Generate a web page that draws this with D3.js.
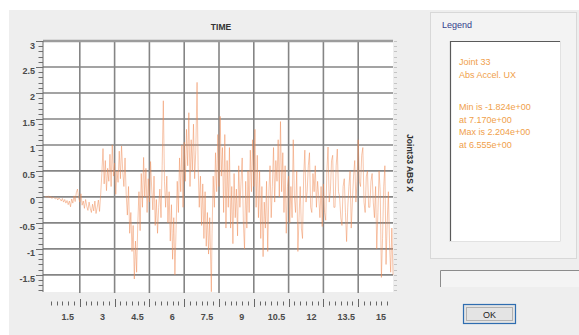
<!DOCTYPE html>
<html>
<head>
<meta charset="utf-8">
<script src="https://cdn.jsdelivr.net/npm/d3@7"></script>
<style>
  html, body { margin: 0; padding: 0; background: #ffffff; overflow: hidden; }
  svg { display: block; }
</style>
</head>
<body>
<svg id="chart" width="579" height="335"></svg>
<script>
// Time stamps (s) of the acceleration history for joint 33
const timeSec = [
  0.00, 0.05, 0.10, 0.15, 0.20, 0.25, 0.30, 0.35, 0.40, 0.45,
  0.50, 0.55, 0.60, 0.65, 0.70, 0.75, 0.80, 0.85, 0.90, 0.95,
  1.00, 1.05, 1.10, 1.15, 1.20, 1.25, 1.30, 1.35, 1.40, 1.45,
  1.50, 1.55, 1.60, 1.65, 1.70, 1.75, 1.80, 1.85, 1.90, 1.95,
  2.00, 2.05, 2.10, 2.15, 2.20, 2.25, 2.30, 2.35, 2.40, 2.45,
  2.50, 2.55, 2.60, 2.65, 2.70, 2.75, 2.80, 2.85, 2.90, 2.95,
  3.00, 3.05, 3.10, 3.15, 3.20, 3.25, 3.30, 3.35, 3.40, 3.45,
  3.50, 3.55, 3.60, 3.65, 3.70, 3.75, 3.80, 3.85, 3.90, 3.95,
  4.00, 4.05, 4.10, 4.15, 4.20, 4.25, 4.30, 4.35, 4.40, 4.45,
  4.50, 4.55, 4.60, 4.65, 4.70, 4.75, 4.80, 4.85, 4.90, 4.95,
  5.00, 5.05, 5.10, 5.15, 5.20, 5.25, 5.30, 5.35, 5.40, 5.45,
  5.50, 5.55, 5.60, 5.65, 5.70, 5.75, 5.80, 5.85, 5.90, 5.95,
  6.00, 6.05, 6.10, 6.15, 6.20, 6.25, 6.30, 6.35, 6.40, 6.45,
  6.50, 6.555, 6.60, 6.65, 6.70, 6.75, 6.80, 6.85, 6.90, 6.95,
  7.00, 7.05, 7.10, 7.17, 7.20, 7.25, 7.30, 7.35, 7.40, 7.45,
  7.50, 7.55, 7.60, 7.65, 7.70, 7.75, 7.80, 7.85, 7.90, 7.95,
  8.00, 8.05, 8.10, 8.15, 8.20, 8.25, 8.30, 8.35, 8.40, 8.45,
  8.50, 8.55, 8.60, 8.65, 8.70, 8.75, 8.80, 8.85, 8.90, 8.95,
  9.00, 9.05, 9.10, 9.15, 9.20, 9.25, 9.30, 9.35, 9.40, 9.45,
  9.50, 9.55, 9.60, 9.65, 9.70, 9.75, 9.80, 9.85, 9.90, 9.95,
  10.00, 10.05, 10.10, 10.15, 10.20, 10.25, 10.30, 10.35, 10.40, 10.45,
  10.50, 10.55, 10.60, 10.65, 10.70, 10.75, 10.80, 10.85, 10.90, 10.95,
  11.00, 11.05, 11.10, 11.15, 11.20, 11.25, 11.30, 11.35, 11.40, 11.45,
  11.50, 11.55, 11.60, 11.65, 11.70, 11.75, 11.80, 11.85, 11.90, 11.95,
  12.00, 12.05, 12.10, 12.15, 12.20, 12.25, 12.30, 12.35, 12.40, 12.45,
  12.50, 12.55, 12.60, 12.65, 12.70, 12.75, 12.80, 12.85, 12.90, 12.95,
  13.00, 13.05, 13.10, 13.15, 13.20, 13.25, 13.30, 13.35, 13.40, 13.45,
  13.50, 13.55, 13.60, 13.65, 13.70, 13.75, 13.80, 13.85, 13.90, 13.95,
  14.00, 14.05, 14.10, 14.15, 14.20, 14.25, 14.30, 14.35, 14.40, 14.45,
  14.50, 14.55, 14.60, 14.65, 14.70, 14.75, 14.80, 14.85, 14.90, 14.95,
  15.00
];

// Absolute acceleration UX at each time stamp
const accelUX = [
  0.00, 0.01, -0.01, 0.02, -0.02, 0.01, -0.03, 0.00, -0.02, -0.04,
  -0.01, -0.06, -0.02, -0.04, -0.08, -0.03, -0.10, -0.05, -0.12, -0.07,
  -0.15, -0.08, -0.19, -0.04, -0.12, 0.02, -0.09, 0.08, 0.15, -0.02,
  -0.10, 0.06, -0.16, -0.08, -0.22, -0.05, -0.18, -0.26, -0.10, -0.22,
  -0.30, -0.14, -0.27, -0.08, -0.32, -0.20, -0.06, -0.28, 0.05, 0.45,
  0.93, 0.25, 0.70, 0.12, 0.55, 0.30, 0.82, 0.20, 1.00, 0.40,
  0.65, 0.05, 0.50, 0.28, 0.88, 0.35, 0.98, 0.50, 0.20, 0.75,
  0.05, -0.35, 0.20, -0.70, -0.30, -1.05, -0.55, -1.58, -0.85, -1.45,
  -0.50, 0.10, -0.65, 0.45, -0.20, 0.76, 0.00, 0.55, -0.30, 0.35,
  -0.10, 0.68, 0.15, -0.25, 0.40, -0.55, -0.05, -0.70, -0.20, 0.15,
  -0.40, 0.60, 1.85, 0.30, -0.20, 0.40, -0.50, 0.10, -0.85, -0.15,
  -1.20, -0.40, -1.50, -0.60, 0.30, -0.30, 0.75, 0.10, 1.00, -0.20,
  1.05, 0.30, 1.30, 0.60, 1.62, 0.20, 1.10, 0.50, 1.40, 0.35,
  0.90, 2.204, 0.60, -0.20, 0.40, -0.55, 0.25, -0.80, 0.10, -0.95,
  -0.30, -1.10, -0.40, -1.824, -0.70, 0.40, -0.20, 0.85, 0.10, 1.20,
  0.20, 1.55, 0.40, 0.95, -0.30, 1.20, -0.60, 0.70, -0.20, 0.95,
  -0.60, 0.20, -0.90, 0.45, -0.40, 0.15, -0.75, 0.60, -0.20, 0.30,
  0.75, -0.50, -1.00, 0.30, -0.60, 0.50, -0.30, 0.90, 0.10, 1.10,
  0.20, 1.30, -0.20, 0.80, -0.40, 0.50, -0.80, 0.20, -1.15, -0.10,
  -0.60, 0.30, -1.05, 0.10, 0.60, -0.40, 0.20, 0.95, -0.10, 0.70,
  0.30, 1.10, 0.00, 1.45, 0.10, 0.85, -0.30, 0.60, -0.70, 0.20,
  0.40, -0.50, 0.20, -0.40, 1.10, 0.00, -0.30, 0.50, -1.05, -0.40,
  0.20, -0.60, -0.80, 0.40, 0.90, -0.10, 0.10, 0.60, 0.85, -0.20,
  -0.30, 0.45, 0.10, 0.60, -0.20, 0.30, 0.00, -0.40, 0.20, -0.57,
  0.25, -0.30, -0.45, 0.50, 0.96, -0.10, 0.10, 0.70, 0.80, -0.20,
  -0.20, 0.60, 0.92, 0.10, 0.00, -0.40, -0.55, 0.20, 0.35, -0.30,
  -0.86, -0.20, 0.20, 0.50, -0.60, -0.10, 0.40, 0.70, -0.10, 0.30,
  1.10, 0.30, 0.20, 0.80, 0.95, -0.10, -0.30, 0.40, 0.50, -0.20,
  -0.20, 0.30, 0.45, -0.10, -0.40, 0.20, -1.00, -0.30, 0.50, 0.10,
  -1.55, -0.80, 0.20, 0.60, -1.30, -0.50, 0.10, -0.90, -1.45, -0.60,
  -1.50
];

const xTickValues = [1.5, 3, 4.5, 6, 7.5, 9, 10.5, 12, 13.5, 15];
const xTickLabels = ["1.5", "3", "4.5", "6", "7.5", "9", "10.5", "12", "13.5", "15"];
const yTickValues = [3, 2.5, 2, 1.5, 1, 0.5, 0, -0.5, -1, -1.5];
const yTickLabels = ["3", "2.5", "2", "1.5", "1", "0.5", "0", "-0.5", "-1", "-1.5"];

const xTitle = "TIME";
const yTitle = "Joint33 ABS X";
const legendTitle = "Legend";
const legendHeader = ["Joint 33", "Abs Accel. UX"];
const buttonLabel = "OK";

const svg = d3.select("#chart");
const font = "'Liberation Sans', Arial, sans-serif";

// Plot geometry
const plot = { left: 43, top: 41, right: 393, bottom: 292 };
const x = d3.scaleLinear().domain([0, 15]).range([45, 393]);
const y = d3.scaleLinear().domain([-1.83, 3]).range([292, 41]);

// Window background
svg.append("rect").attr("x", 9).attr("y", 10).attr("width", 570).attr("height", 325)
  .attr("fill", "#eeeeee");

// Plot area
svg.append("rect")
  .attr("x", plot.left).attr("y", plot.top)
  .attr("width", plot.right - plot.left).attr("height", plot.bottom - plot.top)
  .attr("fill", "#ffffff");

// Grid
const grid = svg.append("g").attr("stroke", "#858585").attr("stroke-width", 1.6);
grid.selectAll("line.h").data(yTickValues.filter(v => v < 3)).join("line")
  .attr("class", "h")
  .attr("x1", plot.left).attr("x2", plot.right)
  .attr("y1", d => y(d)).attr("y2", d => y(d));
grid.selectAll("line.v").data(xTickValues.filter(v => v < 15)).join("line")
  .attr("class", "v")
  .attr("x1", d => x(d)).attr("x2", d => x(d))
  .attr("y1", plot.top).attr("y2", plot.bottom + 1);

// Frame: heavy top edge and left axis line
svg.append("line").attr("x1", plot.left).attr("x2", plot.right)
  .attr("y1", plot.top).attr("y2", plot.top)
  .attr("stroke", "#9c9c9c").attr("stroke-width", 2.6);
svg.append("line").attr("x1", plot.left).attr("x2", plot.left)
  .attr("y1", plot.top).attr("y2", plot.bottom)
  .attr("stroke", "#6a6a6a").attr("stroke-width", 1);

// Acceleration trace
const line = d3.line().x((d, i) => x(timeSec[i])).y(d => y(d));
svg.append("path")
  .datum(accelUX)
  .attr("d", line)
  .attr("fill", "none")
  .attr("stroke", "#ee8a55")
  .attr("stroke-opacity", 0.55)
  .attr("stroke-width", 0.9)
  .attr("stroke-linejoin", "round");

// Y axis minor ticks (left and right)
const yMinor = d3.range(-18, 31).map(k => k / 10);
svg.append("g").attr("stroke", "#6e6e6e").attr("stroke-width", 1)
  .selectAll("line").data(yMinor).join("line")
  .attr("x1", d => (Math.abs(d * 2 - Math.round(d * 2)) < 1e-6 ? 36 : 38.5))
  .attr("x2", plot.left)
  .attr("y1", d => Math.round(y(d)) + 0.5).attr("y2", d => Math.round(y(d)) + 0.5);
svg.append("g").attr("stroke", "#c4c4c4").attr("stroke-width", 1)
  .selectAll("line").data(yMinor).join("line")
  .attr("x1", plot.right + 1).attr("x2", plot.right + 4)
  .attr("y1", d => Math.round(y(d)) + 0.5).attr("y2", d => Math.round(y(d)) + 0.5);

// Y tick labels
svg.append("g")
  .selectAll("text").data(yTickValues).join("text")
  .attr("x", 35).attr("y", d => y(d) + 4.5)
  .attr("text-anchor", "end").attr("dominant-baseline", "central")
  .attr("font-family", font).attr("font-size", 9).attr("font-weight", "bold")
  .attr("fill", "#4a4a4a")
  .text((d, i) => yTickLabels[i]);

// X axis minor ticks row
const xMinor = d3.range(1, 60).map(k => k / 4);
svg.append("g").attr("stroke", "#666666").attr("stroke-width", 1)
  .selectAll("line").data(xMinor).join("line")
  .attr("x1", d => Math.round(x(d)) + 0.5).attr("x2", d => Math.round(x(d)) + 0.5)
  .attr("y1", d => (Math.abs(d / 1.5 - Math.round(d / 1.5)) < 1e-6 ? 299 : 301.5))
  .attr("y2", d => (Math.abs(d / 1.5 - Math.round(d / 1.5)) < 1e-6 ? 307 : 305.5));

// X tick labels (set to the left of their grid lines)
svg.append("g")
  .selectAll("text").data(xTickValues).join("text")
  .attr("x", d => x(d) - 12).attr("y", 317)
  .attr("text-anchor", "middle").attr("dominant-baseline", "central")
  .attr("font-family", font).attr("font-size", 9).attr("font-weight", "bold")
  .attr("fill", "#4a4a4a")
  .text((d, i) => xTickLabels[i]);

// Axis titles
svg.append("text").attr("x", 221).attr("y", 27)
  .attr("text-anchor", "middle").attr("dominant-baseline", "central")
  .attr("font-family", font).attr("font-size", 8.5).attr("font-weight", "bold")
  .attr("fill", "#333333").text(xTitle);
svg.append("text")
  .attr("transform", "translate(410,163) rotate(90)")
  .attr("text-anchor", "middle").attr("dominant-baseline", "central")
  .attr("font-family", font).attr("font-size", 8.5).attr("font-weight", "bold")
  .attr("fill", "#2e2e2e").text(yTitle);

// Legend panel
svg.append("rect").attr("x", 430.5).attr("y", 12.5).attr("width", 146).attr("height", 246)
  .attr("fill", "#f3f3f3").attr("stroke", "#d8d8d8");
svg.append("text").attr("x", 442).attr("y", 25)
  .attr("dominant-baseline", "central")
  .attr("font-family", font).attr("font-size", 9)
  .attr("fill", "#34408c").text(legendTitle);

const box = { x: 450, y: 41, w: 111, h: 201 };
svg.append("rect").attr("x", box.x).attr("y", box.y).attr("width", box.w).attr("height", box.h)
  .attr("fill", "#ffffff");
svg.append("path")
  .attr("d", `M${box.x + 0.5},${box.y + box.h}V${box.y + 0.5}H${box.x + box.w}`)
  .attr("fill", "none").attr("stroke", "#5a5a5a").attr("stroke-width", 1.2);
svg.append("path")
  .attr("d", `M${box.x + box.w - 0.5},${box.y}V${box.y + box.h - 0.5}H${box.x}`)
  .attr("fill", "none").attr("stroke", "#e2e2e2").attr("stroke-width", 1);

// Legend statistics
const fmtE = v => {
  const [m, e] = v.toExponential(3).split("e");
  return m + "e" + e[0] + e.slice(1).padStart(2, "0");
};
const iMin = d3.minIndex(accelUX);
const iMax = d3.maxIndex(accelUX);
const legendStats = [
  "Min is " + fmtE(accelUX[iMin]),
  "at " + fmtE(timeSec[iMin]),
  "Max is " + fmtE(accelUX[iMax]),
  "at " + fmtE(timeSec[iMax])
];
const legendRows = [
  { text: legendHeader[0], y: 62 },
  { text: legendHeader[1], y: 75 },
  { text: legendStats[0], y: 107 },
  { text: legendStats[1], y: 119.5 },
  { text: legendStats[2], y: 132 },
  { text: legendStats[3], y: 144.5 }
];
svg.append("g").selectAll("text").data(legendRows).join("text")
  .attr("x", 459).attr("y", d => d.y)
  .attr("dominant-baseline", "central")
  .attr("font-family", font).attr("font-size", 9)
  .attr("fill", "#f0a04a")
  .text(d => d.text);

// Status field under the legend
svg.append("rect").attr("x", 440).attr("y", 270).attr("width", 140).attr("height", 17)
  .attr("fill", "#f4f4f4");
svg.append("path").attr("d", "M440.5,287V270.5H579")
  .attr("fill", "none").attr("stroke", "#8c8c8c").attr("stroke-width", 1);

// OK button
svg.append("rect").attr("x", 463.5).attr("y", 304.5).attr("width", 52).attr("height", 19)
  .attr("fill", "#e4e4e4").attr("stroke", "#2f6db0").attr("stroke-width", 1.2);
svg.append("rect").attr("x", 466.5).attr("y", 307.5).attr("width", 46).attr("height", 13)
  .attr("fill", "none").attr("stroke", "#666").attr("stroke-width", 0.8)
  .attr("stroke-dasharray", "1,1");
svg.append("text").attr("x", 489.5).attr("y", 314.5)
  .attr("text-anchor", "middle").attr("dominant-baseline", "central")
  .attr("font-family", font).attr("font-size", 9)
  .attr("fill", "#222").text(buttonLabel);
</script>
</body>
</html>
